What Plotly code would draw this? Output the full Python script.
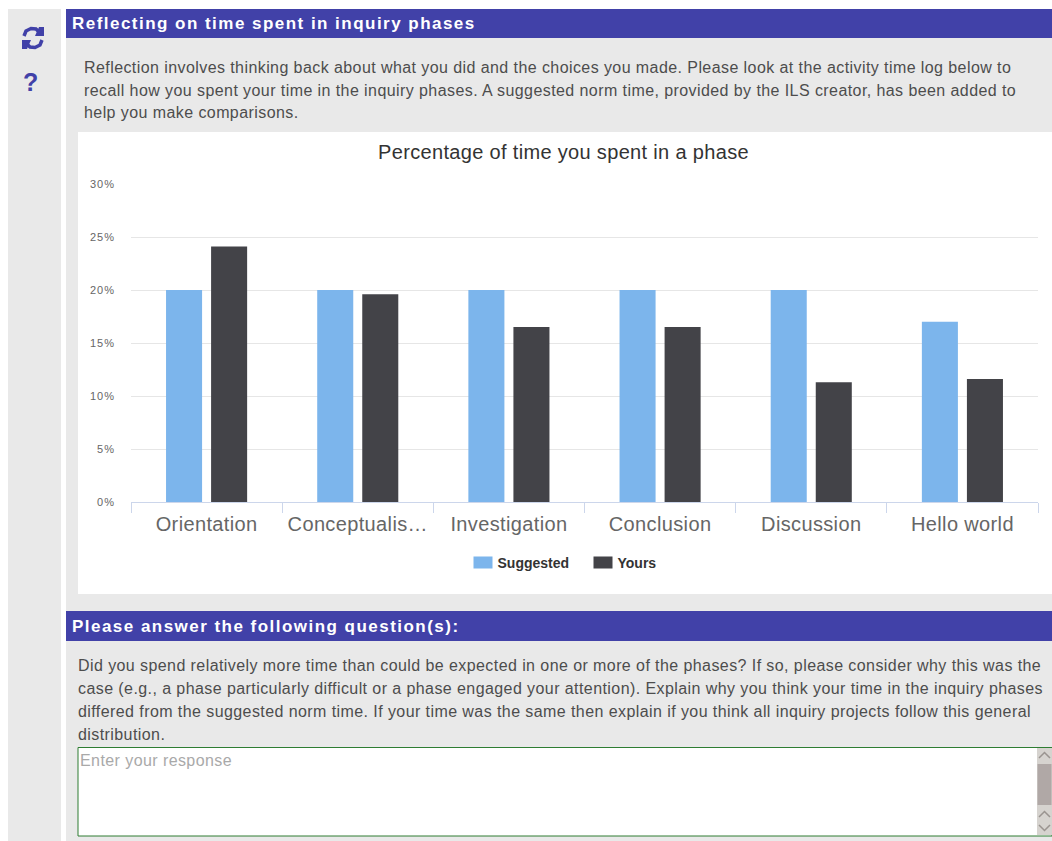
import plotly.graph_objects as go

W, H = 1052, 841
categories = ["Orientation", "Conceptualis…", "Investigation", "Conclusion", "Discussion", "Hello world"]
suggested = [20, 20, 20, 20, 20, 17]
yours = [24.1, 19.6, 16.5, 16.5, 11.3, 11.6]
y_ticks = [0, 5, 10, 15, 20, 25, 30]
y_tick_labels = ["0%", "5%", "10%", "15%", "20%", "25%", "30%"]

intro_lines = [
    "Reflection involves thinking back about what you did and the choices you made. Please look at the activity time log below to",
    "recall how you spent your time in the inquiry phases. A suggested norm time, provided by the ILS creator, has been added to",
    "help you make comparisons.",
]
question_lines = [
    "Did you spend relatively more time than could be expected in one or more of the phases? If so, please consider why this was the",
    "case (e.g., a phase particularly difficult or a phase engaged your attention). Explain why you think your time in the inquiry phases",
    "differed from the suggested norm time. If your time was the same then explain if you think all inquiry projects follow this general",
    "distribution.",
]

FONT = "Liberation Sans, Arial, sans-serif"
BLUE = "#4141a8"
PANEL = "#e9e9e9"


def fx(x):
    return x / W


def fy(y):
    return 1 - y / H


def rect(x0, y0, x1, y1, fill, line=None):
    return dict(type="rect", xref="paper", yref="paper", x0=fx(x0), x1=fx(x1), y0=fy(y1), y1=fy(y0),
                fillcolor=fill, line=dict(color=line or fill, width=1 if line else 0), layer="below")


def polyline(points, color, width=1.5, closed=False, fill=None):
    d = "M" + " L".join(f"{fx(x):.5f},{fy(y):.5f}" for x, y in points) + (" Z" if closed else "")
    return dict(type="path", xref="paper", yref="paper", path=d, layer="below",
                line=dict(color=color, width=width), fillcolor=fill)


def label(x, y, text, size, color, bold=False, anchor="left"):
    return dict(xref="paper", yref="paper", x=fx(x), y=fy(y), text=text, showarrow=False,
                xanchor=anchor, yanchor="middle", align="left", borderpad=0,
                font=dict(family=FONT, size=size, color=color, weight="bold" if bold else "normal"))


shapes = [
    rect(8, 9, 61, 841, PANEL),
    rect(66, 9, 1052, 841, PANEL),
    rect(66, 9, 1052, 38, BLUE),
    rect(78, 132, 1052, 594, "#ffffff"),
    rect(66, 611, 1052, 641, BLUE),
    rect(78, 747.5, 1052, 836, "#ffffff", "#2e7d32"),
    rect(1037, 748, 1052, 835, "#d6d3cf"),
    rect(1037.5, 764, 1051.5, 805, "#b0a8a6"),
    polyline([(1039, 758), (1044.5, 752.5), (1050, 758)], "#9a9490"),
    polyline([(1039, 817), (1044.5, 811.5), (1050, 817)], "#9a9490"),
    polyline([(1039, 825), (1044.5, 830.5), (1050, 825)], "#9a9490"),
    # refresh icon
    polyline([(24, 36), (26, 31), (31, 28.5), (36, 29), (39, 32)], BLUE, 3.5),
    polyline([(39, 27), (44, 27), (44, 36), (35, 36)], BLUE, 0, True, BLUE),
    polyline([(42, 40), (40, 45), (35, 47.5), (30, 47), (27, 44)], BLUE, 3.5),
    polyline([(22, 40), (31, 40), (27, 49), (22, 49)], BLUE, 0, True, BLUE),
]

annotations = [
    label(71, 23.5, "Reflecting on time spent in inquiry phases", 17, "#ffffff", True),
    label(71, 626, "Please answer the following question(s):", 17, "#ffffff", True),
    label(30, 82, "?", 25, BLUE, True, "center"),
    label(79, 760, "Enter your response", 16, "#a9a9a9"),
]
for i, t in enumerate(intro_lines):
    annotations.append(label(83, 67 + 23 * i, t, 16, "#4d4d4d"))
for i, t in enumerate(question_lines):
    annotations.append(label(77, 665 + 23 * i, t, 16, "#4d4d4d"))

fig = go.Figure()
fig.add_bar(name="Suggested", x=categories, y=suggested, marker=dict(color="#7cb5ec", line=dict(width=0)))
fig.add_bar(name="Yours", x=categories, y=yours, marker=dict(color="#434348", line=dict(width=0)))

fig.update_layout(
    width=W, height=H, autosize=False,
    margin=dict(l=0, r=0, t=0, b=0, autoexpand=False),
    paper_bgcolor="#ffffff", plot_bgcolor="rgba(0,0,0,0)",
    font=dict(family=FONT),
    barmode="group", bargap=0.404, bargroupgap=0.2,
    title=dict(text="Percentage of time you spent in a phase", xref="paper", yref="paper",
               x=fx(563.5), y=fy(152), xanchor="center", yanchor="middle",
               font=dict(family=FONT, size=20, color="#333333")),
    legend=dict(orientation="h", x=fx(577.5), y=fy(563), xanchor="center", yanchor="middle",
                entrywidth=75, entrywidthmode="pixels",
                bgcolor="rgba(0,0,0,0)", font=dict(family=FONT, size=14, color="#333333", weight="bold")),
    xaxis=dict(domain=[fx(131), fx(1038)], type="category", range=[-0.5, 5.5], tickson="boundaries",
               ticks="outside", ticklen=10, tickcolor="#ccd6eb", tickwidth=1, ticklabelstandoff=4,
               showline=True, linecolor="#ccd6eb", linewidth=1, showgrid=False,
               tickfont=dict(family=FONT, size=20, color="#666666"), fixedrange=True),
    yaxis=dict(domain=[fy(502), fy(184)], range=[0, 30], tickmode="array", tickvals=y_ticks,
               ticktext=y_tick_labels, gridcolor="#e6e6e6", gridwidth=1, zeroline=False, showline=False,
               ticks="", ticklabelstandoff=15,
               tickfont=dict(family=FONT, size=11, color="#666666"), fixedrange=True),
    shapes=shapes, annotations=annotations,
)

post = """
document.body.style.margin='0';
document.documentElement.style.overflow='hidden';
document.querySelectorAll('.annotation-text').forEach(function(t){
  t.style.letterSpacing = (t.style.fontWeight==='700'||t.style.fontWeight==='bold') ? '1.47px' : '0.42px';
});
document.querySelectorAll('.gtitle').forEach(function(t){t.style.letterSpacing='0.33px';});
document.querySelectorAll('.xtick text').forEach(function(t){t.style.letterSpacing='0.36px';});
document.querySelectorAll('.ytick text').forEach(function(t){t.style.letterSpacing='1px';});
document.querySelectorAll('.legendpoints path').forEach(function(p){p.setAttribute('d','M15,6H-4V-6H15Z');});
"""
fig.write_html("out.html", config=dict(displayModeBar=False), post_script=post)
